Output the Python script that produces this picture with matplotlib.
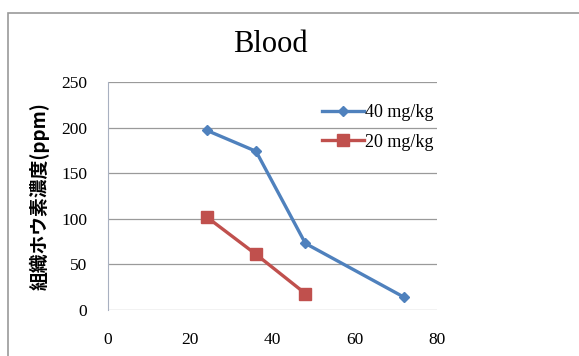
import matplotlib
matplotlib.use("Agg")
import matplotlib.pyplot as plt
from matplotlib.patches import Rectangle

# data
hours_40 = [24, 36, 48, 72]
ppm_40 = [197, 174, 73, 14]
hours_20 = [24, 36, 48]
ppm_20 = [102, 61, 18]
x_ticks = [0, 20, 40, 60, 80]
y_ticks = [0, 50, 100, 150, 200, 250]

W, H = 579, 356
fig = plt.figure(figsize=(W / 100, H / 100), dpi=100)
fig.patch.set_facecolor("white")

# outer chart frame (runs off right and bottom)
fig.patches.append(Rectangle((8 / W, -0.05), 1.0, 1 - 13 / H + 0.05,
                             transform=fig.transFigure, fill=False,
                             edgecolor="#9a9a9a", linewidth=1.2))

ax = fig.add_axes([108 / W, 1 - 310 / H, (437 - 108) / W, (310 - 82) / H])
serif = ["Liberation Serif", "DejaVu Serif"]

ax.plot(hours_40, ppm_40, color="#4F81BD", marker="D", markersize=5,
        linewidth=2.4, label="40 mg/kg")
ax.plot(hours_20, ppm_20, color="#C0504D", marker="s", markersize=9,
        linewidth=2.4, label="20 mg/kg")

ax.set_xlim(0, 80)
ax.set_ylim(0, 250)
ax.set_xticks(x_ticks)
ax.set_yticks(y_ticks)
ax.tick_params(axis="y", length=0, pad=15, labelsize=12.5)
ax.tick_params(axis="x", length=0, pad=16, labelsize=12.5)
for lab in ax.get_xticklabels() + ax.get_yticklabels():
    lab.set_family(serif)
ax.grid(axis="y", color="#9a9a9a", linewidth=0.9)
ax.set_axisbelow(True)
for s in ["top", "right", "bottom"]:
    ax.spines[s].set_visible(False)
ax.spines["left"].set_color("#a8b0c0")

ax.set_ylabel("組織ホウ素濃度(ppm)", family=["Noto Sans CJK JP", "DejaVu Sans"],
              fontsize=13.5, fontweight="bold", labelpad=8)
fig.text(270 / W, 1 - 45 / H, "Blood", family=serif, fontsize=22,
         ha="center", va="center")

leg = ax.legend(loc="upper right", bbox_to_anchor=(1.04, 0.975), frameon=False,
                prop={"family": serif, "size": 13},
                handlelength=2.3, handletextpad=0.1, labelspacing=0.7)

fig.savefig("out.png", dpi=100)
